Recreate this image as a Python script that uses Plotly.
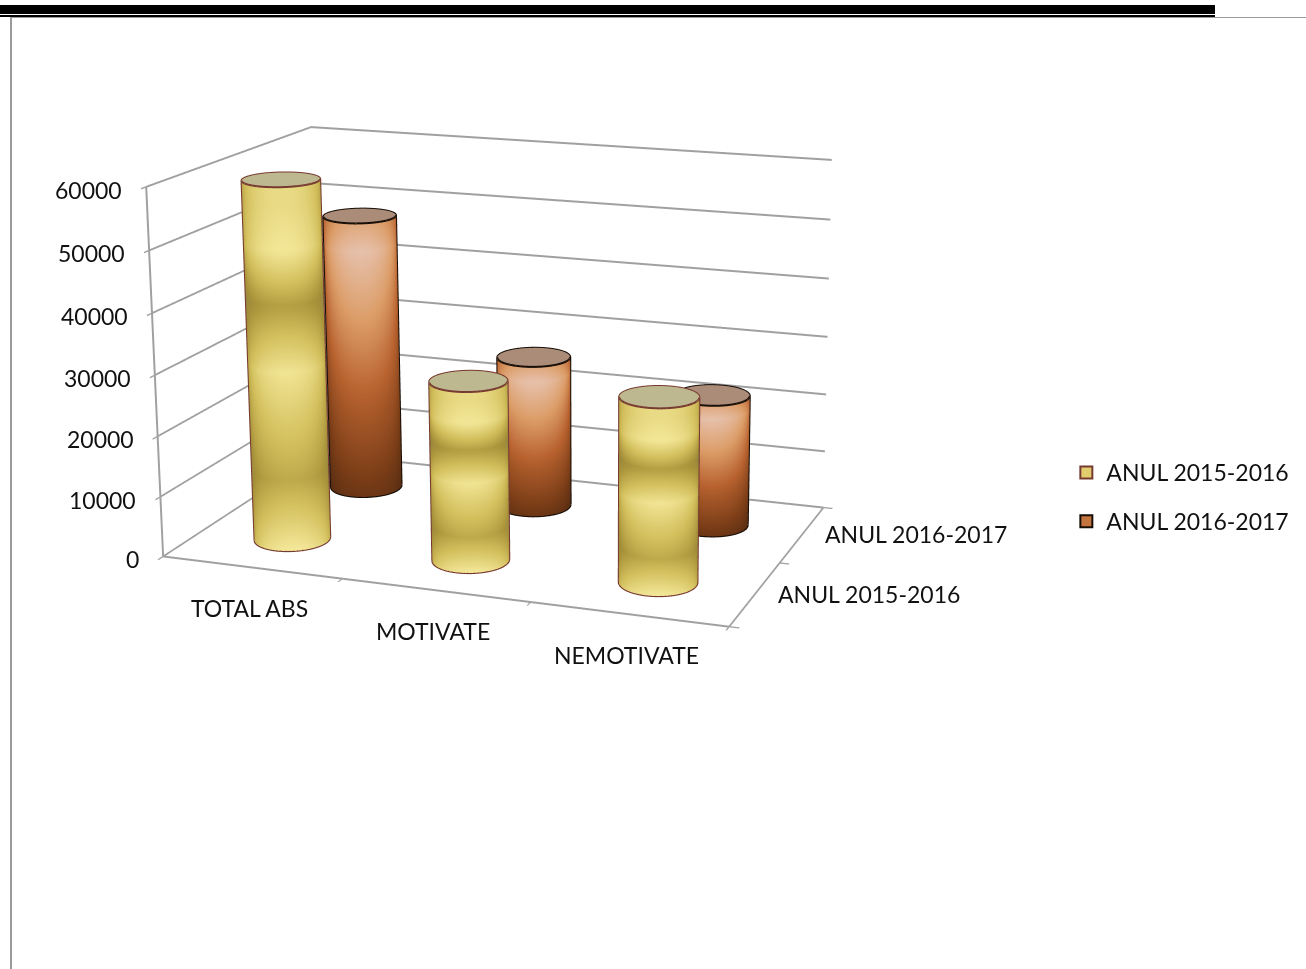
import numpy as np
import plotly.graph_objects as go

categories = ["TOTAL ABS", "MOTIVATE", "NEMOTIVATE"]
series_names = ["ANUL 2015-2016", "ANUL 2016-2017"]
values_2015 = [59500, 29500, 29900]
values_2016 = [48000, 26000, 22300]
z_ticks = [0, 10000, 20000, 30000, 40000, 50000, 60000]

W, VIEW_H = 1306, 969
FIG_H, OFF = 1988, 694   # taller canvas gives the long lens of the reference; the page is shifted up by OFF
eye = dict(x=1.017, y=-2.572, z=0.749)
center = dict(x=-0.057, y=0.762, z=-0.114)
up = dict(x=-0.243, y=0.733, z=1)
asp = (0.692, 0.424, 0.442)

def py(v):
    return 1 - (v + OFF) / FIG_H

YEL = [[0, "#66634a"], [0.45, "#a8923a"], [0.7, "#d2bf5c"], [1, "#f5e99b"]]
ORG = [[0, "#2e190c"], [0.3, "#7a3d17"], [0.55, "#b8622f"], [0.78, "#dc9d68"], [1, "#e6c0aa"]]
def band_y(t):
    return np.interp(1 - t, [0, 0.05, 0.17, 0.32, 0.5, 0.62, 0.8, 0.9, 1], [0.9, 0.9, 0.98, 0.52, 0.96, 0.8, 0.58, 0.78, 1.0])
def band_o(t):
    return np.interp(1 - t, [0, 0.1, 0.35, 0.65, 1], [0.85, 1.0, 0.78, 0.52, 0.25])
FLAT = dict(ambient=1, diffuse=0, specular=0, fresnel=0, roughness=1)

fig = go.Figure()
rx = 0.195
ry = rx * (asp[0] / 3) * (2 / asp[1])
rows = [(values_2015, YEL, band_y, "#bdb88f", "#763a30"), (values_2016, ORG, band_o, "#ab8c79", "#160d06")]
for j, (vals, cs, band, cap, edge) in enumerate(rows):
    ex, ey, ez = [], [], []
    for i, v in enumerate(vals):
        th = np.linspace(0, 2 * np.pi, 73)
        tf = np.linspace(0, 1, 61)
        T, Fr = np.meshgrid(th, tf)
        tv = np.arctan2(eye["y"] - ((j + 0.5) / 2 - 0.5) * asp[1], eye["x"] - ((i + 0.5) / 3 - 0.5) * asp[0])
        sh = np.abs(np.cos(T - tv)) ** 0.8
        fig.add_trace(go.Surface(x=i + rx * np.cos(T), y=j + ry * np.sin(T), z=v * Fr,
                                 surfacecolor=band(Fr) * (0.5 + 0.5 * sh), colorscale=cs, cmin=0, cmax=1,
                                 showscale=False, hoverinfo="skip", lighting=FLAT))
        R, TT = np.meshgrid(np.linspace(0, 1, 5), th)
        fig.add_trace(go.Surface(x=i + rx * R * np.cos(TT), y=j + ry * R * np.sin(TT), z=np.full(R.shape, v),
                                 surfacecolor=np.zeros(R.shape), colorscale=[[0, cap], [1, cap]],
                                 showscale=False, hoverinfo="skip", lighting=FLAT))
        ex += list(i + rx * np.cos(th)) + [None]
        ey += list(j + ry * np.sin(th)) + [None]
        ez += [v] * 73 + [None]
        hb = np.linspace(tv - np.pi / 2, tv + np.pi / 2, 37)
        ex += list(i + rx * np.cos(hb)) + [None]
        ey += list(j + ry * np.sin(hb)) + [None]
        ez += [0] * 37 + [None]
        for a in (tv - np.pi / 2, tv + np.pi / 2):
            ex += [i + rx * np.cos(a)] * 2 + [None]
            ey += [j + ry * np.sin(a)] * 2 + [None]
            ez += [0, v, None]
    fig.add_trace(go.Scatter3d(x=ex, y=ey, z=ez, mode="lines", line=dict(color=edge, width=4),
                               showlegend=False, hoverinfo="skip", connectgaps=False))

for n, c, e in zip(series_names, ["#e2cd6e", "#c4743f"], ["#763a30", "#160d06"]):
    fig.add_trace(go.Scatter3d(x=[None], y=[None], z=[None], mode="markers", name=n, legendgroup=n,
                               marker=dict(symbol="square", size=12, color=c, line=dict(color=e, width=2))))

F = "Lato"
FS = 23
TC = "#111111"
ann = []
for z in z_ticks:
    ann.append(dict(x=-0.5, y=-0.5, z=z, text=str(z), showarrow=False, xanchor="right", xshift=-22, yshift=-3,
                    font=dict(family=F, size=FS, color=TC)))
for i, c in enumerate(categories):
    ann.append(dict(x=i, y=-0.5, z=0, text=c, showarrow=False, xshift=-2, yshift=-41, font=dict(family=F, size=FS, color=TC)))
for j, s in enumerate(series_names):
    ann.append(dict(x=2.5, y=j, z=0, text=s, showarrow=False, xanchor="left", xshift=21,
                    font=dict(family=F, size=FS, color=TC)))

def ax(**k):
    d = dict(showbackground=False, showspikes=False, title=dict(text=""), showticklabels=False, zeroline=False,
             showline=True, linecolor="#a0a0a0", linewidth=4, ticks="outside", ticklen=8, tickcolor="#a0a0a0",
             tickwidth=3, showgrid=False)
    d.update(k)
    return d

def rect(x0, x1, y0, y1, col):
    return dict(type="rect", xref="paper", yref="paper", x0=x0 / W, x1=x1 / W, y0=py(y0), y1=py(y1), fillcolor=col, line_width=0)

fig.update_layout(width=W, height=FIG_H, margin=dict(l=0, r=0, t=0, b=0), paper_bgcolor="white",
    font=dict(family=F, size=FS, color=TC),
    legend=dict(x=0.8165, y=py(497), xanchor="left", yanchor="middle", tracegroupgap=16, bgcolor="rgba(0,0,0,0)",
                font=dict(family=F, size=FS, color=TC)),
    scene=dict(domain=dict(x=[0, 1], y=[0, 1]), aspectmode="manual",
        aspectratio=dict(x=asp[0], y=asp[1], z=asp[2]),
        camera=dict(eye=eye, center=center, up=up, projection=dict(type="perspective")),
        xaxis=ax(range=[-0.5, 2.5], tickmode="array", tickvals=[-0.5, 0.5, 1.5, 2.5]),
        yaxis=ax(range=[-0.5, 1.5], tickmode="array", tickvals=[-0.5, 0.5, 1.5]),
        zaxis=ax(range=[0, 60000], tickmode="array", tickvals=z_ticks, showgrid=True, gridcolor="#a0a0a0", gridwidth=4),
        annotations=ann),
    shapes=[rect(0, 1215, 5, 14, "black"), rect(0, 1215, 15, 17, "black"),
            rect(10, W, 17, 18, "#9a9a9a"), rect(10, 12, 17, VIEW_H, "#9a9a9a")])
fig.write_html("out.html", config=dict(displayModeBar=False),
    post_script="document.body.style.margin='0';document.documentElement.style.overflow='hidden';document.body.style.overflow='hidden';document.body.style.height='969px';var g=document.querySelector('.plotly-graph-div');g.style.marginTop='-%dpx';" % OFF)
